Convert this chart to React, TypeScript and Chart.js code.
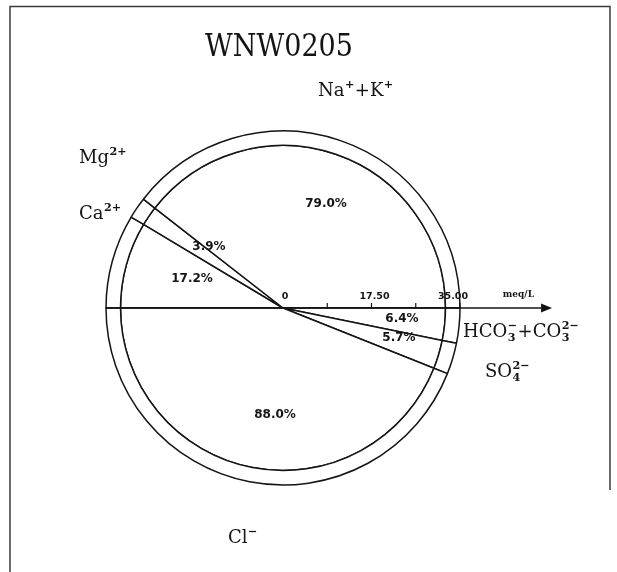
import React, { useEffect, useRef } from 'react';
import { Chart, registerables } from 'chart.js';

Chart.register(...registerables);

// ---------------- data ----------------
const TITLE = 'WNW0205';
// upper half (cations), drawn clockwise from the west axis
const cationNames = ['Ca²⁺', 'Mg²⁺', 'Na⁺+K⁺'];
const cationPercent = [17.2, 3.9, 79.0];
// lower half (anions), drawn clockwise from the east axis
const anionNames = ['HCO₃⁻+CO₃²⁻', 'SO₄²⁻', 'Cl⁻'];
const anionPercent = [6.4, 5.7, 88.0];
// radial concentration axis (meq/L); outer circle = axisMax
const axisMax = 35;
const axisTicks = [0, 8.75, 17.5, 26.25, 35];
const axisTickLabels = ['0', '', '17.50', '', '35.00'];
const axisUnit = 'meq/L';

type Seg = { t: string; sup?: string; sub?: string };
// rich-text rendering of the ion names (same order as names above)
const cationParts: Seg[][] = [
  [{ t: 'Ca', sup: '2+' }],
  [{ t: 'Mg', sup: '2+' }],
  [{ t: 'Na', sup: '+' }, { t: '+K', sup: '+' }],
];
const anionParts: Seg[][] = [
  [{ t: 'HCO', sub: '3', sup: '−' }, { t: '+CO', sub: '3', sup: '2−' }],
  [{ t: 'SO', sub: '4', sup: '2−' }],
  [{ t: 'Cl', sup: '−' }],
];

const INK = '#141414';
const SERIF = '"DejaVu Serif", serif';
const SANS = '"DejaVu Sans", sans-serif';

function drawRich(ctx: CanvasRenderingContext2D, parts: Seg[], x: number, y: number, size: number) {
  ctx.textAlign = 'left';
  ctx.textBaseline = 'alphabetic';
  const small = size * 0.62;
  for (const p of parts) {
    ctx.font = `${size}px ${SERIF}`;
    ctx.fillText(p.t, x, y);
    x += ctx.measureText(p.t).width + 0.5;
    ctx.font = `bold ${small}px ${SERIF}`;
    let w = 0;
    if (p.sup) {
      ctx.fillText(p.sup, x, y - size * 0.42);
      w = Math.max(w, ctx.measureText(p.sup).width);
    }
    if (p.sub) {
      ctx.fillText(p.sub, x, y + size * 0.2);
      w = Math.max(w, ctx.measureText(p.sub).width);
    }
    x += w + 0.5;
  }
}

const overlay = {
  id: 'overlay',
  beforeDraw(chart: any) {
    const ctx = chart.ctx as CanvasRenderingContext2D;
    ctx.save();
    ctx.fillStyle = '#ffffff';
    ctx.fillRect(0, 0, chart.width, chart.height);
    ctx.restore();
  },
  afterDraw(chart: any) {
    const ctx = chart.ctx as CanvasRenderingContext2D;
    const arc = chart.getDatasetMeta(0).data[0];
    const cx = arc.x;
    const cy = arc.y;
    const R = arc.outerRadius;
    const k = R / axisMax;
    ctx.save();

    // frame
    ctx.strokeStyle = '#3a3a3a';
    ctx.lineWidth = 1.5;
    ctx.beginPath();
    ctx.moveTo(10, chart.height);
    ctx.lineTo(10, 6.5);
    ctx.lineTo(610, 6.5);
    ctx.lineTo(610, 490);
    ctx.stroke();

    // horizontal axis with arrow
    ctx.strokeStyle = INK;
    ctx.fillStyle = INK;
    ctx.lineWidth = 1.4;
    const tip = cx + R * 1.52;
    ctx.beginPath();
    ctx.moveTo(cx - R, cy);
    ctx.lineTo(tip - 6, cy);
    ctx.stroke();
    ctx.beginPath();
    ctx.moveTo(tip, cy);
    ctx.lineTo(tip - 11, cy - 4.5);
    ctx.lineTo(tip - 11, cy + 4.5);
    ctx.closePath();
    ctx.fill();

    // ticks + labels
    ctx.lineWidth = 1.2;
    axisTicks.forEach((v, i) => {
      const x = cx + v * k;
      if (v > 0) {
        ctx.beginPath();
        ctx.moveTo(x, cy);
        ctx.lineTo(x, cy - 5);
        ctx.stroke();
      }
      const lab = axisTickLabels[i];
      if (lab) {
        ctx.font = `bold 9.5px ${SANS}`;
        ctx.textAlign = 'center';
        ctx.textBaseline = 'alphabetic';
        const off = i === 0 ? 2 : i === axisTicks.length - 1 ? -7 : 3;
        ctx.fillText(lab, x + off, cy - 9);
      }
    });
    ctx.font = `bold 9px ${SERIF}`;
    ctx.textAlign = 'center';
    ctx.fillText(axisUnit, cx + R * 1.33, cy - 11);

    // percentage labels (offsets from centre)
    const pctOffsets = [
      [-91, -29], [-74, -61], [43, -104],
      [119, 11], [116, 30], [-8, 107],
    ];
    const pcts = [...cationPercent, ...anionPercent];
    ctx.font = `bold 12px ${SANS}`;
    ctx.textAlign = 'center';
    ctx.textBaseline = 'middle';
    pcts.forEach((p, i) => {
      ctx.fillText(`${p.toFixed(1)}%`, cx + pctOffsets[i][0], cy + pctOffsets[i][1]);
    });

    // ion names (left, baseline)
    const namePos = [
      [79, 219], [79, 163], [318, 96],
      [463, 337], [485, 377], [228, 543],
    ];
    const parts = [...cationParts, ...anionParts];
    parts.forEach((p, i) => drawRich(ctx, p, namePos[i][0], namePos[i][1], 18));

    // title
    ctx.save();
    ctx.font = `27px ${SERIF}`;
    ctx.textAlign = 'center';
    ctx.textBaseline = 'alphabetic';
    ctx.translate(279, 56);
    ctx.scale(1, 1.15);
    ctx.fillText(TITLE, 0, 0);
    ctx.restore();

    ctx.restore();
  },
};

export default function App() {
  const ref = useRef<HTMLCanvasElement | null>(null);
  useEffect(() => {
    if (!ref.current) return;
    const values = [...cationPercent, ...anionPercent];
    const ds = (weight: number) => ({
      data: values,
      backgroundColor: '#ffffff',
      borderColor: INK,
      borderWidth: 1.5,
      hoverOffset: 0,
      weight,
    });
    const chart = new Chart(ref.current, {
      type: 'pie',
      data: {
        labels: [...cationNames, ...anionNames],
        datasets: [ds(14.5), ds(162.5)],
      },
      options: {
        responsive: false,
        animation: false,
        devicePixelRatio: 1,
        rotation: -90,
        radius: 177,
        cutout: 0,
        layout: { padding: { left: 0, right: 51, top: 44, bottom: 0 } },
        plugins: { legend: { display: false }, tooltip: { enabled: false }, title: { display: false } },
        events: [],
      } as any,
      plugins: [overlay],
    });
    return () => chart.destroy();
  }, []);
  return (
    <div style={{ position: 'fixed', left: 0, top: 0, width: 617, height: 572, background: '#fff' }}>
      <canvas ref={ref} width={617} height={572} style={{ display: 'block', width: 617, height: 572 }} />
    </div>
  );
}
